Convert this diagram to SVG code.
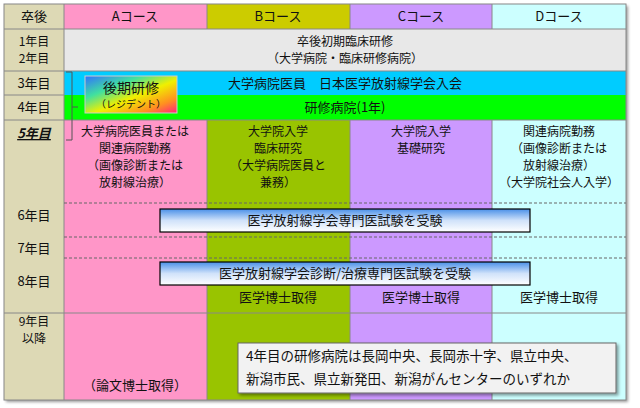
<svg xmlns="http://www.w3.org/2000/svg" width="640" height="408" viewBox="0 0 640 408">
<style>
text{font-family:"Noto Sans CJK JP","Liberation Sans",sans-serif;font-size:13px;fill:#111;text-anchor:middle}
.s{font-size:12px}
.ln{stroke:#888;stroke-width:1;fill:none}
.dash{stroke:#666;stroke-width:1;stroke-dasharray:3,2}
.exam{stroke:#000;stroke-width:1.2;fill:url(#bg)}
</style>
<defs>
<linearGradient id="bg" x1="0" y1="0" x2="0" y2="1"><stop offset="0" stop-color="#4a90e8"/><stop offset="0.5" stop-color="#d0e2fa"/><stop offset="1" stop-color="#ffffff"/></linearGradient>
<linearGradient id="rb" x1="0" y1="0" x2="1" y2="1"><stop offset="0" stop-color="#3070ff"/><stop offset="0.3" stop-color="#40e0a0"/><stop offset="0.55" stop-color="#f0f000"/><stop offset="0.8" stop-color="#ff9020"/><stop offset="1" stop-color="#ff2080"/></linearGradient>
<filter id="sh"><feDropShadow dx="2" dy="2" stdDeviation="1.5" flood-opacity="0.4"/></filter>
</defs>
<rect x="4" y="4" width="622" height="396" fill="#fff" filter="url(#sh)"/>
<g id="columns">
<rect x="4" y="4" width="60" height="396" fill="#ddd9b5"/>
<rect x="64" y="4" width="143" height="396" fill="#ff96c8"/>
<rect x="207" y="4" width="143" height="396" fill="#99c400"/>
<rect x="350" y="4" width="142" height="396" fill="#cc99ff"/>
<rect x="492" y="4" width="134" height="396" fill="#ccffff"/>
<rect x="207" y="4" width="143" height="25" fill="#cccc00"/>
</g>
<g id="rows">
<rect x="64" y="29" width="562" height="42" fill="#e8e8e8"/>
<rect x="64" y="71" width="562" height="24" fill="#00ccff"/>
<rect x="64" y="95" width="562" height="25" fill="#00ff00"/>
</g>
<g id="grid">
<rect x="4" y="4" width="622" height="396" class="ln"/>
<line x1="64" y1="4" x2="64" y2="400" class="ln"/>
<line x1="207" y1="4" x2="207" y2="29" class="ln"/>
<line x1="350" y1="4" x2="350" y2="29" class="ln"/>
<line x1="492" y1="4" x2="492" y2="29" class="ln"/>
<line x1="207" y1="120" x2="207" y2="400" class="ln"/>
<line x1="350" y1="120" x2="350" y2="400" class="ln"/>
<line x1="492" y1="120" x2="492" y2="400" class="ln"/>
<line x1="4" y1="29" x2="626" y2="29" class="ln"/>
<line x1="4" y1="71" x2="626" y2="71" class="ln"/>
<line x1="4" y1="95" x2="64" y2="95" class="ln"/>
<line x1="4" y1="120" x2="626" y2="120" class="ln"/>
<line x1="4" y1="313" x2="626" y2="313" class="ln"/>
<line x1="64" y1="203" x2="626" y2="203" class="dash"/>
<line x1="64" y1="237" x2="626" y2="237" class="dash"/>
<line x1="64" y1="258" x2="626" y2="258" class="dash"/>
</g>
<g id="labels">
<text x="34" y="21">卒後</text>
<text x="34" y="46" class="s">1年目</text>
<text x="34" y="63" class="s">2年目</text>
<text x="34" y="88">3年目</text>
<text x="34" y="112">4年目</text>
<text x="34" y="138" style="font-weight:bold;font-style:italic;text-decoration:underline">5年目</text>
<text x="34" y="220">6年目</text>
<text x="34" y="253">7年目</text>
<text x="34" y="286">8年目</text>
<text x="34" y="326" class="s">9年目</text>
<text x="34" y="343" class="s">以降</text>
<text x="135" y="21">Aコース</text>
<text x="278" y="21">Bコース</text>
<text x="421" y="21">Cコース</text>
<text x="559" y="21">Dコース</text>
<text x="345" y="46" class="s">卒後初期臨床研修</text>
<text x="345" y="63" class="s">（大学病院・臨床研修病院）</text>
<text x="345" y="88">大学病院医員　日本医学放射線学会入会</text>
<text x="345" y="112">研修病院(1年)</text>
<text x="135" y="136" class="s">大学病院医員または</text>
<text x="135" y="153" class="s">関連病院勤務</text>
<text x="135" y="170" class="s">（画像診断または</text>
<text x="135" y="187" class="s">放射線治療）</text>
<text x="278" y="136" class="s">大学院入学</text>
<text x="278" y="153" class="s">臨床研究</text>
<text x="278" y="170" class="s">（大学病院医員と</text>
<text x="278" y="187" class="s">兼務）</text>
<text x="421" y="136" class="s">大学院入学</text>
<text x="421" y="153" class="s">基礎研究</text>
<text x="559" y="136" class="s">関連病院勤務</text>
<text x="559" y="153" class="s">（画像診断または</text>
<text x="559" y="170" class="s">放射線治療）</text>
<text x="559" y="187" class="s">（大学院社会人入学）</text>
<text x="278" y="302">医学博士取得</text>
<text x="421" y="302">医学博士取得</text>
<text x="559" y="302">医学博士取得</text>
<text x="135" y="390">（論文博士取得）</text>
</g>
<g id="bracket"><path d="M66 72 H72 V140 H66 M72 107 H78" class="ln" style="stroke:#555"/></g>
<g id="resident">
<rect x="85" y="76" width="92" height="37" fill="url(#rb)" stroke="#ccc"/>
<text x="131" y="93" style="font-size:14px">後期研修</text>
<text x="131" y="108" style="font-size:10px">（レジデント）</text>
</g>
<g id="exam1"><rect x="160" y="209" width="370" height="23" class="exam"/><text x="345" y="225">医学放射線学会専門医試験を受験</text></g>
<g id="exam2"><rect x="160" y="262" width="370" height="23" class="exam"/><text x="345" y="278">医学放射線学会診断/治療専門医試験を受験</text></g>
<g id="note">
<rect x="238" y="343" width="378" height="50" fill="#f2f2f2" stroke="#666" filter="url(#sh)"/>
<text x="246" y="361" style="text-anchor:start;font-size:13.5px">4年目の研修病院は長岡中央、長岡赤十字、県立中央、</text>
<text x="246" y="384" style="text-anchor:start;font-size:13.5px">新潟市民、県立新発田、新潟がんセンターのいずれか</text>
</g>
</svg>
